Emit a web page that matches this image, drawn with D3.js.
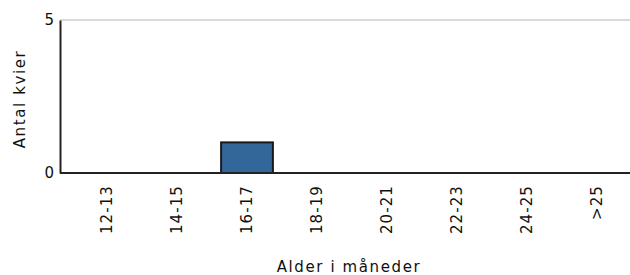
<!DOCTYPE html>
<html lang="da">
<head>
<meta charset="UTF-8">
<title>Antal kvier efter alder</title>
<style>
  body { margin: 0; background: #fff; }
  svg text { font-family: "DejaVu Sans", Verdana, sans-serif; fill: #111; }
</style>
</head>
<body>
<div id="chart"></div>
<script src="https://d3js.org/d3.v7.min.js"></script>
<script>
// data
var categories = ["12-13", "14-15", "16-17", "18-19", "20-21", "22-23", "24-25", ">25"];
var values = [0, 0, 1, 0, 0, 0, 0, 0];
var yTicks = [0, 5];

var width = 630, height = 275;
var plot = { left: 60, right: 632, top: 20, bottom: 173 };

var svg = d3.select("#chart").append("svg")
    .attr("width", width)
    .attr("height", height);

var x = d3.scaleBand()
    .domain(categories)
    .range([72, plot.right])
    .paddingInner(0.26)
    .paddingOuter(0.13);

var y = d3.scaleLinear()
    .domain([0, 5])
    .range([plot.bottom, plot.top]);

// top grid line
svg.append("line")
    .attr("x1", plot.left).attr("x2", width)
    .attr("y1", y(5)).attr("y2", y(5))
    .attr("stroke", "#d9d9d9")
    .attr("stroke-width", 2);

// bars
svg.selectAll("rect.bar")
    .data(values)
    .enter()
    .append("rect")
    .attr("class", "bar")
    .attr("x", function (d, i) { return x(categories[i]); })
    .attr("width", x.bandwidth())
    .attr("y", function (d) { return y(d); })
    .attr("height", function (d) { return y(0) - y(d); })
    .attr("fill", "#336699")
    .attr("stroke", "#1a1a1a")
    .attr("stroke-width", 2)
    .style("display", function (d) { return d > 0 ? null : "none"; });

// y axis
var yAxis = svg.append("g")
    .attr("transform", "translate(" + plot.left + ",0)")
    .call(d3.axisLeft(y).tickValues(yTicks).tickFormat(d3.format("d")).tickSize(0).tickPadding(6));
yAxis.select(".domain").attr("stroke", "#222").attr("stroke-width", 2);
yAxis.selectAll("text").style("font-size", "15px").attr("fill", "#111");

// x axis
var xAxis = svg.append("g")
    .attr("transform", "translate(0," + plot.bottom + ")")
    .call(d3.axisBottom(x).tickSize(0));
xAxis.select(".domain")
    .attr("d", "M" + plot.left + ",0H" + width)
    .attr("stroke", "#222").attr("stroke-width", 2);
xAxis.selectAll("text")
    .attr("transform", "rotate(-90)")
    .attr("x", -12)
    .attr("y", 0)
    .attr("dy", "0.35em")
    .style("text-anchor", "end")
    .style("font-size", "15px")
    .style("letter-spacing", "1.1px")
    .attr("fill", "#111");

// axis titles
svg.append("text")
    .attr("x", 349)
    .attr("y", 272)
    .attr("text-anchor", "middle")
    .style("font-size", "15px")
    .style("letter-spacing", "1.6px")
    .text("Alder i måneder");

svg.append("text")
    .attr("transform", "translate(25,99) rotate(-90)")
    .attr("text-anchor", "middle")
    .style("font-size", "15px")
    .style("letter-spacing", "1.6px")
    .text("Antal kvier");
</script>
</body>
</html>
